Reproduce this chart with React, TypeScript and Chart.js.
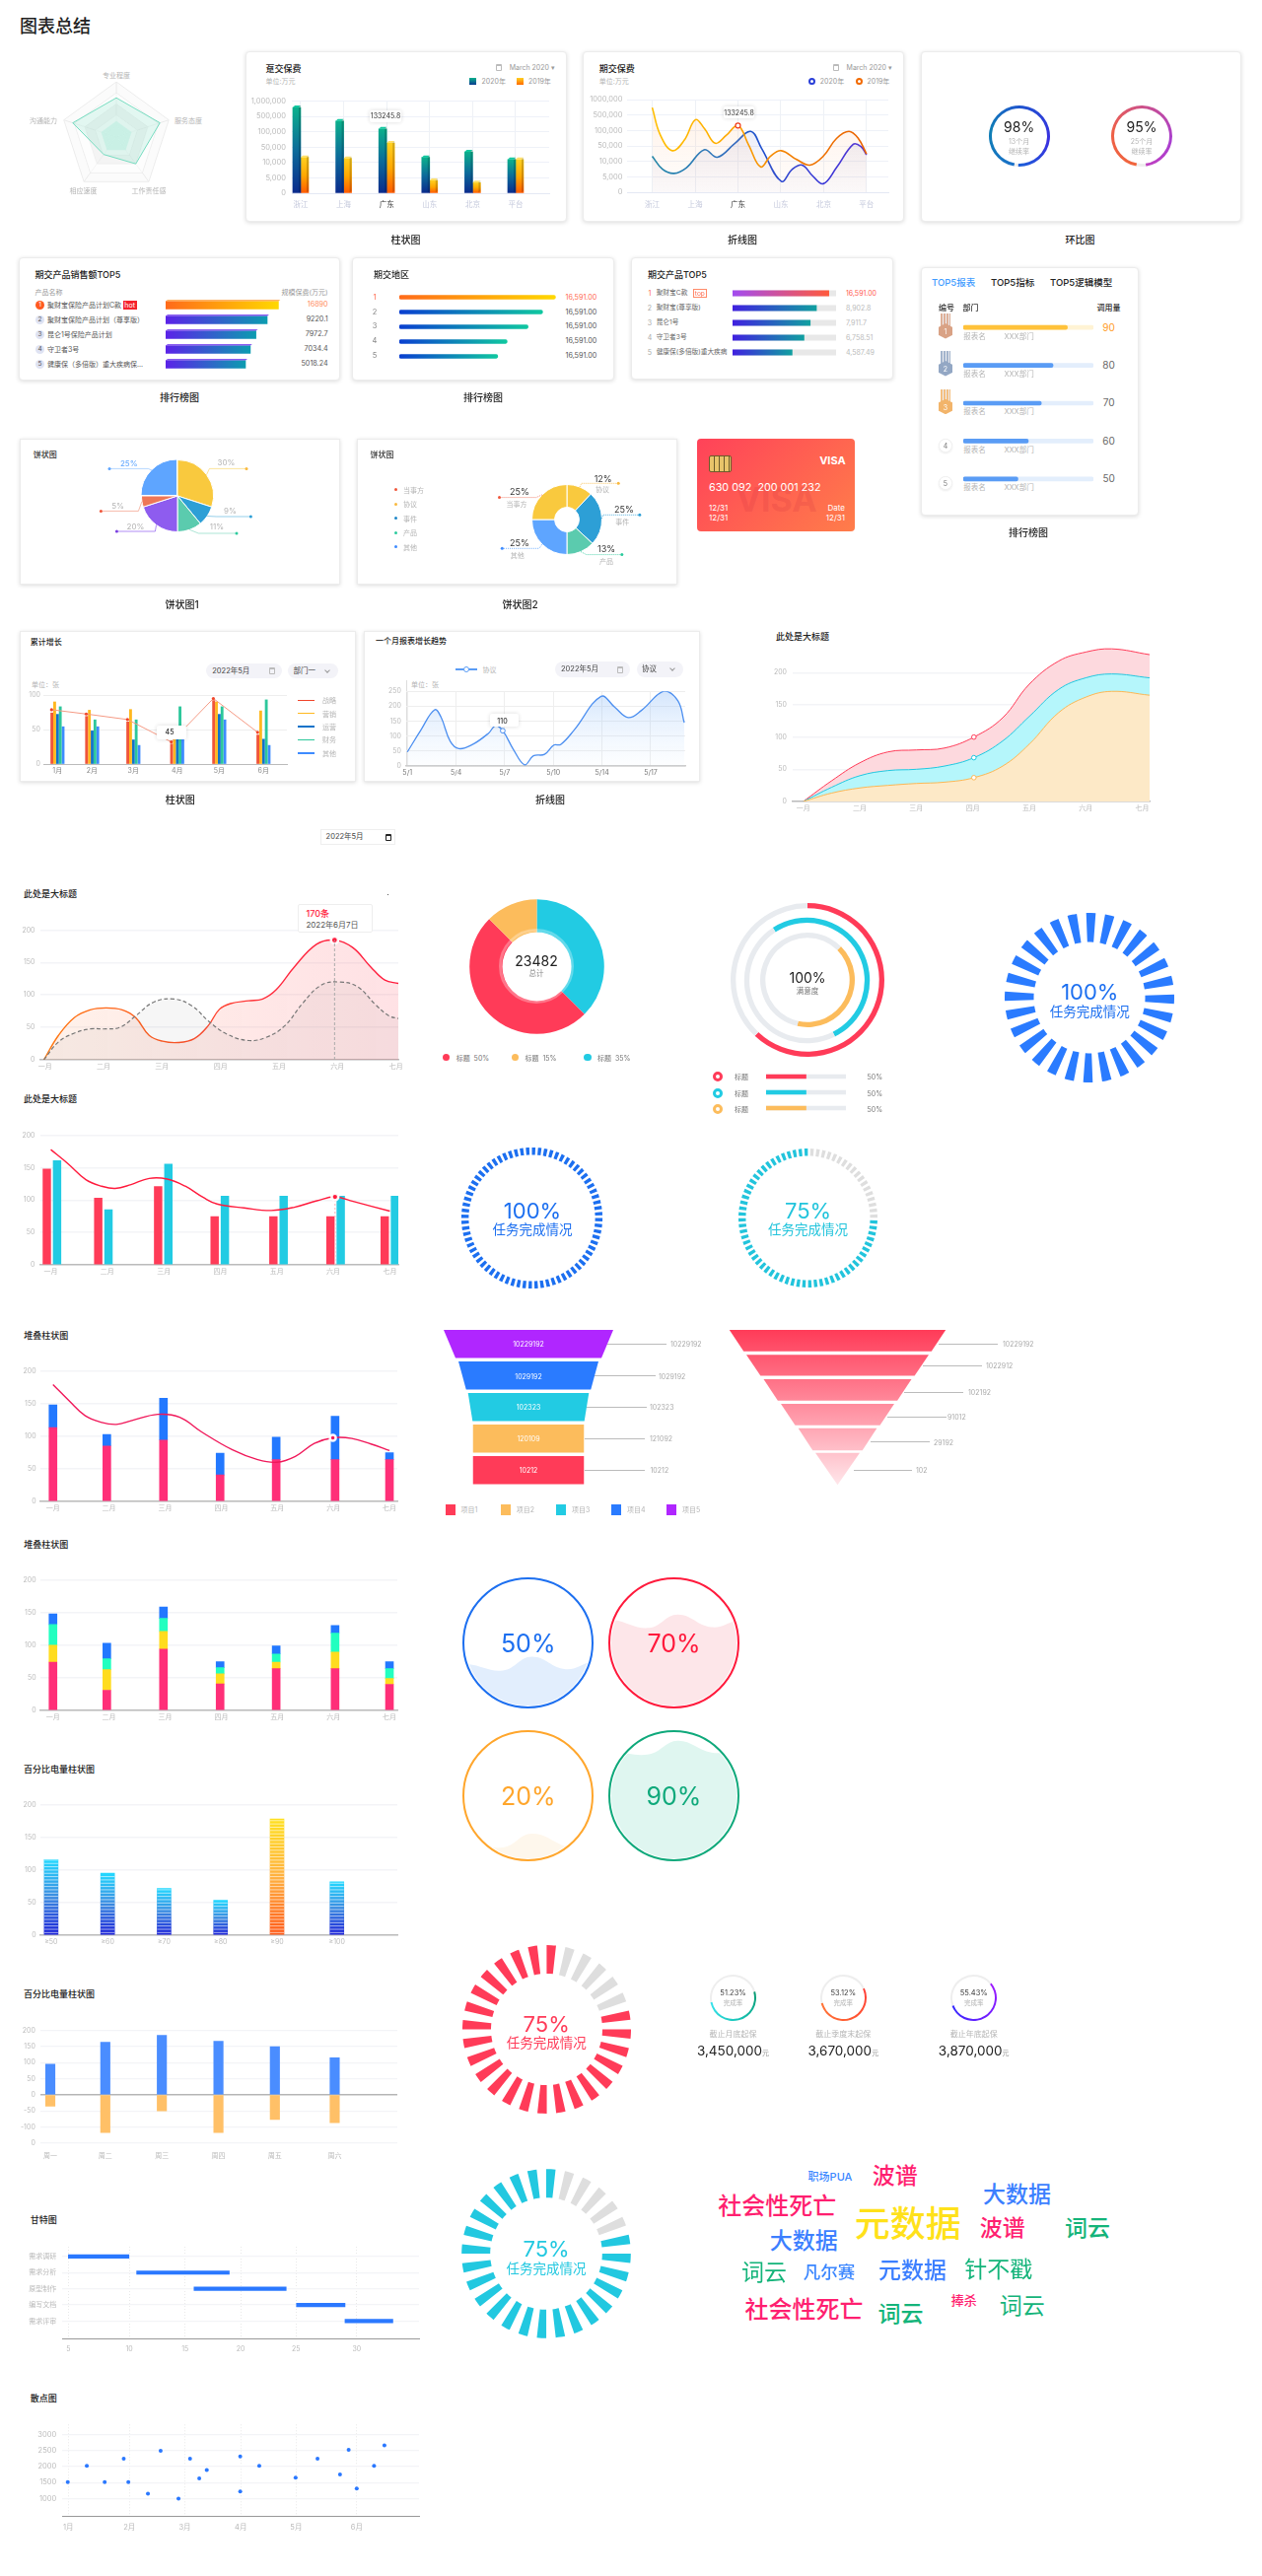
import React, { useEffect, useRef } from 'react';
import { Chart, registerables } from 'chart.js';
Chart.register(...registerables);

// ---------- DATA ----------
const radarLabels = ['专业程度', '服务态度', '工作责任感', '相应速度', '沟通能力'];
const radarSeries = [0.71, 0.83, 0.6, 0.39, 0.83];
const radarInner = [0.29, 0.29, 0.29, 0.29, 0.29];
const regions = ['浙江', '上海', '广东', '山东', '北京', '平台'];
const slotLabelsA = ['0', '5,000', '10,000', '50,000', '100,000', '500,000', '1,000,000'];
const slotLabelsB = ['0', '5,000', '10,000', '50,000', '100,000', '500,000', '1000,000'];
const bars2020 = [5.58, 4.7, 4.19, 2.33, 2.69, 2.2];
const bars2019 = [2.33, 2.27, 3.27, 0.83, 0.69, 2.19];
const lineOrangeX = [0, 0.19, 0.47, 0.75, 1.01, 1.22, 1.47, 1.73, 2.0, 2.25, 2.53, 2.76, 3.01, 3.37, 3.68, 3.99, 4.3, 4.59, 4.81, 5.0];
const lineOrangeY = [5.48, 3.69, 2.69, 3.38, 4.7, 4.11, 3.17, 3.69, 4.32, 3.06, 1.64, 2.33, 2.69, 2.12, 1.76, 2.33, 3.48, 3.94, 3.48, 2.48];
const lineBlueX = [0, 0.24, 0.51, 0.8, 1.21, 1.52, 1.93, 2.3, 2.55, 3.01, 3.27, 3.5, 3.74, 3.99, 4.3, 4.69, 4.87, 5.0];
const lineBlueY = [2.33, 1.49, 1.22, 1.59, 2.75, 2.27, 3.17, 3.94, 2.85, 0.71, 1.49, 1.76, 1.07, 0.55, 1.59, 3.1, 2.96, 2.43];

const rank1Names = ['聚财宝保险产品计划C款', '聚财宝保险产品计划（尊享版）', '昆仑1号保险产品计划', '守卫者3号', '健康保（多倍版）重大疾病保...'];
const rank1Len = [114.4, 103, 91.6, 85.9, 81];
const rank1Vals = ['16890', '9220.1', '7972.7', '7034.4', '5018.24'];
const rank2Len = [157.9, 144.9, 130.2, 109, 99.5];
const rank2Vals = ['16,591.00', '16,591.00', '16,591.00', '16,591.00', '16,591.00'];
const rank3Names = ['聚财宝C款', '聚财宝(尊享版)', '昆仑1号', '守卫者3号', '健康保(多倍版)重大疾病'];
const rank3Pct = [93, 81, 75, 69, 57.5];
const rank3Vals = ['16,591.00', '8,902.8', '7,911.7', '6,758.51', '4,587.49'];
const rank4Pct = [80, 69, 60, 50, 42];
const rank4Vals = ['90', '80', '70', '60', '50'];

const pie1Vals = [30, 9, 11, 20, 5, 25];
const pie2Vals = [12, 25, 13, 25, 25];
const pie2Names = ['当事方', '协议', '事件', '产品', '其他'];

const months = ['1月', '2月', '3月', '4月', '5月', '6月'];
const monthPos = [0, 0.8, 1.75, 2.76, 3.73, 4.75];
const growStrategy = [74, 69, 61, 29, 92, 42];
const growMarketing = [90, 78, 79, 38, 90, 77];
const growOps = [72, 48, 35, 38, 72, 36];
const growFinance = [83, 64, 64, 83, 83, 93];
const growOther = [54, 54, 27, 38, 64, 27];
const growLine = [78.7, 72.5, 64.5, 32, 95, 46];

const trendX = [0, 0.28, 0.56, 0.69, 0.88, 1.06, 1.34, 1.67, 1.81, 1.96, 2.18, 2.41, 2.59, 2.82, 3.01, 3.15, 3.43, 3.98, 4.26, 4.54, 4.81, 5.28, 5.56, 5.69];
const trendY = [47, 121, 188, 164, 83, 58, 72, 110, 135, 118, 55, 4, 34, 39, 70, 72, 121, 233, 197, 162, 186, 251, 218, 145];
const trendLabels = ['5/1', '5/4', '5/7', '5/10', '5/14', '5/17'];

const cnMonths = ['一月', '二月', '三月', '四月', '五月', '六月', '七月'];
const areaX = [0, 0.5, 1, 1.5, 2, 2.5, 3.02, 3.53, 4, 4.52, 5, 5.46, 6.13];
const areaRed = [0, 32, 60, 77, 80, 83, 100, 130, 182, 218, 232, 237, 228];
const areaTeal = [0, 22, 40, 48, 50, 55, 68, 94, 132, 174, 192, 198, 192];
const areaOrange = [0, 13, 21, 25, 28, 30, 37, 55, 89, 138, 162, 171, 165];

const waveSolidX = [-0.02, 0.23, 0.5, 0.77, 1.04, 1.32, 1.55, 1.78, 2.01, 2.28, 2.55, 2.79, 2.98, 3.17, 3.48, 3.72, 3.95, 4.26, 4.64, 4.95, 5.26, 5.57, 5.81, 6.04];
const waveSolidY = [0, 37.6, 65, 77, 80, 77, 65, 37.6, 28.6, 26.6, 32.6, 52.6, 77.7, 86.7, 91, 93.7, 107.8, 142.9, 178, 184.5, 173, 143, 122.8, 117.8];
const waveDashX = [-0.02, 0.23, 0.5, 0.77, 1.04, 1.28, 1.55, 1.86, 2.21, 2.52, 2.79, 3.1, 3.48, 3.79, 4.1, 4.41, 4.72, 5.03, 5.34, 5.65, 5.88, 6.04];
const waveDashY = [0, 27.6, 41, 47.6, 47.6, 50, 67.7, 89, 93.7, 82.7, 60, 40, 29.6, 35, 52.6, 87.7, 115, 120, 112.8, 85, 67.7, 63.7];

const donutVals = [37.5, 50, 12.5];
const legendDonut = ['标题  50%', '标题  15%', '标题  35%'];

const mixGroupX = [0.02, 0.93, 1.99, 2.99, 4.03, 5.04, 6.0];
const mixRed = [148, 103, 121, 74.5, 74.5, 74.5, 74.5];
const mixTeal = [161, 85, 155.5, 106, 106, 106, 106];
const mixLineX = [0, 0.3, 0.62, 0.9, 1.14, 1.42, 1.74, 2.06, 2.38, 2.7, 2.94, 3.42, 3.9, 4.31, 4.71, 5.03, 5.35, 6.0];
const mixLineY = [178, 156.5, 131.5, 121.5, 118, 124, 133.5, 132.5, 121.5, 104, 94, 88, 84, 89, 99, 105, 98, 83];

const stackGroupX = [0, 0.96, 1.97, 2.98, 3.98, 5.03, 6.0];
const stackPink = [113, 85, 94, 40.5, 64, 64, 64];
const stackBlue = [35, 17.5, 64, 33.5, 34.5, 66.5, 10.5];
const stackLineX = [0, 0.29, 0.57, 0.85, 1.13, 1.41, 1.87, 2.26, 2.65, 3.2, 3.65, 3.99, 4.32, 4.66, 4.99, 5.33, 5.67, 6.0];
const stackLineY = [179, 154, 131.5, 121.5, 118, 124, 133.5, 129, 106.5, 79, 64, 60, 69, 89, 97.5, 96.5, 88, 78];
const stack4Pink = [74, 31, 94, 40.5, 64, 64, 40];
const stack4Yellow = [26, 31.5, 27, 15.5, 10, 25.5, 9];
const stack4Mint = [31.5, 16.5, 20, 9.5, 12.5, 29, 15];
const stack4Blue = [16.5, 24, 17.5, 9, 12.5, 11.5, 10.5];

const powerLabels = ['≥50', '≥60', '≥70', '≥80', '≥90', '≥100'];
const powerX = [0, 1, 2, 3, 4, 5.06];
const powerVals = [116, 95, 71.5, 53.5, 178, 82];

const weekLabels = ['周一', '周二', '周三', '周四', '周五', '周六'];
const weekX = [0, 0.975, 1.977, 2.98, 3.98, 5.04];
const weekPos = [94.5, 163, 184, 166, 149, 114.6];
const weekNeg = [-35, -116.6, -50, -116.6, -76.4, -86.4];
const weekTicks = [200, 150, 100, 50, 0, -50, -100, -150];
const weekTickLabels = ['200', '150', '100', '50', '0', '-50', '-100', '0'];

const ganttTasks = ['需求调研', '需求分析', '原型制作', '编写文档', '需求评审'];
const ganttStart = [5, 11, 16.04, 25.04, 29.3];
const ganttEnd = [10.32, 19.13, 24.13, 29.3, 33.5];
const ganttTicks = [5, 10.35, 15.25, 20.13, 25, 30.33];
const ganttTickLabels = ['5', '10', '15', '20', '25', '30'];

const scatterX = [0.99, 1.32, 1.63, 1.96, 2.04, 2.38, 2.6, 2.91, 3.11, 3.27, 3.4, 3.98, 3.98, 4.31, 4.94, 5.32, 5.71, 5.86, 6.0, 6.3, 6.48];
const scatterY = [1510, 2020, 1510, 2240, 1510, 1150, 2490, 1000, 2240, 1630, 1890, 2310, 1220, 2020, 1650, 2240, 1750, 2520, 1310, 2020, 2660];
const scatterTicks = [1, 2.06, 3.02, 3.99, 4.95, 6];

const funnel1Top = [172, 142, 122.6, 112.5, 112.5];
const funnel1Bottom = [148, 126.5, 113.4, 112.5, 112.5];
const funnel1Inner = ['10229192', '1029192', '102323', '120109', '10212'];
const funnel1Outer = ['10229192', '1029192', '102323', '121092', '10212'];
const funnel2Top = [219.4, 185, 150, 115, 79.7, 45];
const funnel2Bottom = [190.5, 156.3, 121.2, 86, 50.4, 0];
const funnel2Outer = ['10229192', '1022912', '102192', '91012', '29192', '102'];

const waveXs = [0, 2, 30, 53, 80, 100];
const wave50 = [31, 33, 28, 39, 29, 35];
const wave70 = [66, 68.4, 62, 72.7, 62.6, 68];
const wave20 = [12, 13.3, 8.6, 19.6, 9.4, 3];
const wave90 = [85, 85.4, 83, 93.8, 84.4, 86];

const kpiPct = [51.23, 53.12, 55.43];
const kpiNames = ['截止月底起保', '截止季度末起保', '截止年底起保'];
const kpiAmount = ['3,450,000', '3,670,000', '3,870,000'];

const cloudWords = ['职场PUA', '波谱', '社会性死亡', '大数据', '元数据', '波谱', '词云', '大数据', '词云', '凡尔赛', '元数据', '针不戳', '社会性死亡', '词云', '捧杀', '词云'];

// ---------- STYLE / HELPERS ----------
const FONT = 'Inter, "Noto Sans CJK SC", sans-serif';
Chart.defaults.font.family = FONT;
const noPlug = { legend: { display: false }, tooltip: { enabled: false } };
const zip = (xs: number[], ys: number[]) => xs.map((x, i) => ({ x, y: ys[i] }));
const lin = (ctx: any, x0: number, y0: number, x1: number, y1: number, stops: string[]) => {
  const g = ctx.createLinearGradient(x0, y0, x1, y1);
  stops.forEach((s, i) => g.addColorStop(i / (stops.length - 1), s));
  return g;
};
const vBar = (stops: any) => (c: any) => {
  const ch = c.chart;
  if (!ch.chartArea || c.dataIndex == null) return 'transparent';
  const s = ch.scales.y;
  const v = c.raw && c.raw.y != null ? c.raw.y : c.raw;
  const st = typeof stops === 'function' ? stops(c.dataIndex) : stops;
  return lin(ch.ctx, 0, s.getPixelForValue(0), 0, s.getPixelForValue(v), st);
};
const hBar = (stops: (i: number) => string[]) => (c: any) => {
  const ch = c.chart;
  if (!ch.chartArea || c.dataIndex == null) return 'transparent';
  const s = ch.scales.x;
  return lin(ch.ctx, s.getPixelForValue(0), 0, s.getPixelForValue(c.raw), 0, stops(c.dataIndex));
};
const vFill = (stops: string[]) => (c: any) => {
  const a = c.chart.chartArea;
  return a ? lin(c.chart.ctx, 0, a.top, 0, a.bottom, stops) : stops[0];
};
const hLine = (stops: string[]) => (c: any) => {
  const a = c.chart.chartArea;
  return a ? lin(c.chart.ctx, a.left, 0, a.right, 0, stops) : stops[0];
};
const conic = (deg: number, stops: [number, string][]) => (c: any) => {
  const ch = c.chart;
  const g = ch.ctx.createConicGradient(((deg - 90) * Math.PI) / 180, ch.width / 2, ch.height / 2);
  stops.forEach(([p, col]) => g.addColorStop(p, col));
  return g;
};

const bar3d = (caps: string[]) => ({
  id: 'bar3d',
  afterDatasetsDraw(ch: any) {
    const ctx = ch.ctx;
    caps.forEach((cap, di) => {
      ch.getDatasetMeta(di).data.forEach((el: any) => {
        const w = el.width, l = el.x - w / 2, r = el.x + w / 2, y = el.y, b = el.base;
        ctx.fillStyle = cap;
        ctx.beginPath();
        ctx.moveTo(l, y); ctx.lineTo(l + 2, y - 2); ctx.lineTo(r, y - 2); ctx.lineTo(r - 2, y); ctx.closePath(); ctx.fill();
        ctx.fillStyle = 'rgba(0,0,0,0.18)';
        ctx.beginPath();
        ctx.moveTo(r - 2, y); ctx.lineTo(r, y - 2); ctx.lineTo(r, b - 2); ctx.lineTo(r - 2, b); ctx.closePath(); ctx.fill();
      });
    });
  },
});
const hbar3d = (caps: (i: number) => string) => ({
  id: 'hbar3d',
  afterDatasetsDraw(ch: any) {
    const ctx = ch.ctx;
    ch.getDatasetMeta(0).data.forEach((el: any, i: number) => {
      const top = el.y - el.height / 2, x0 = el.base, x1 = el.x;
      ctx.fillStyle = caps(i);
      ctx.beginPath();
      ctx.moveTo(x0, top); ctx.lineTo(x0 + 2, top - 1.6); ctx.lineTo(x1 + 2, top - 1.6); ctx.lineTo(x1, top); ctx.closePath(); ctx.fill();
    });
  },
});
const stripes = {
  id: 'stripes',
  afterDatasetsDraw(ch: any) {
    const ctx = ch.ctx;
    ctx.fillStyle = 'rgba(255,255,255,0.6)';
    ch.getDatasetMeta(0).data.forEach((el: any) => {
      for (let yy = el.base - 2.4; yy > el.y; yy -= 3.34) ctx.fillRect(el.x - el.width / 2, yy, el.width, 1);
    });
  },
};
const leaders = (items: any[], dash: number[]) => ({
  id: 'leaders',
  afterDatasetsDraw(ch: any) {
    const ctx = ch.ctx;
    ch.getDatasetMeta(0).data.forEach((el: any, i: number) => {
      const it = items[i];
      const mid = (el.startAngle + el.endAngle) / 2;
      const sx = el.x + Math.cos(mid) * el.outerRadius, sy = el.y + Math.sin(mid) * el.outerRadius;
      const ex = el.x + it.ex, ey = el.y + it.ey, tx = el.x + it.tx;
      ctx.save();
      ctx.strokeStyle = it.line; ctx.lineWidth = 1; ctx.setLineDash(dash);
      ctx.beginPath(); ctx.moveTo(sx, sy); ctx.lineTo(ex, ey); ctx.lineTo(tx, ey); ctx.stroke();
      ctx.setLineDash([]);
      ctx.fillStyle = it.dot;
      ctx.beginPath(); ctx.arc(tx, ey, 1.5, 0, Math.PI * 2); ctx.fill();
      ctx.restore();
    });
  },
});
const funnel = (tops: number[], bottoms: number[], rows: number[], heights: number[], paint: any) => ({
  id: 'funnel',
  afterDatasetsDraw(ch: any) {
    const { x, y } = ch.scales;
    const ctx = ch.ctx;
    const c = x.getPixelForValue(0);
    tops.forEach((w, i) => {
      const m = y.getPixelForValue(rows[i]);
      const y0 = m - heights[i] / 2, y1 = m + heights[i] / 2;
      const ht = x.getPixelForValue(w / 2) - c, hb = x.getPixelForValue(bottoms[i] / 2) - c;
      ctx.beginPath();
      ctx.moveTo(c - ht, y0); ctx.lineTo(c + ht, y0); ctx.lineTo(c + hb, y1); ctx.lineTo(c - hb, y1); ctx.closePath();
      ctx.fillStyle = paint(ctx, i, ch);
      ctx.fill();
    });
  },
});

// ---------- PRIMITIVES ----------
function C({ x, y, w, h, cfg, style }: any) {
  const ref = useRef<HTMLCanvasElement | null>(null);
  useEffect(() => {
    const chart = new Chart(ref.current as any, {
      ...cfg,
      options: { responsive: false, maintainAspectRatio: false, animation: false, ...cfg.options },
    });
    return () => chart.destroy();
  }, []);
  const W = Math.round(w), H = Math.round(h);
  return <canvas ref={ref} width={W} height={H} style={{ position: 'absolute', left: Math.round(x), top: Math.round(y), width: W, height: H, ...style }} />;
}
const T = ({ x, y, s, z = 7, c = '#b5b5b5', b = 400, a = 'l', style }: any) => (
  <div style={{ position: 'absolute', left: x, top: y, transform: `translate(${a === 'c' ? '-50%' : a === 'r' ? '-100%' : '0'},-50%)`, fontSize: z, color: c, fontWeight: b, whiteSpace: 'pre', lineHeight: 1, ...style }}>{s}</div>
);
const Box = ({ x0, y0, x1, y1, style }: any) => (
  <div style={{ position: 'absolute', left: x0, top: y0, width: x1 - x0, height: y1 - y0, boxSizing: 'border-box', ...style }} />
);
const Card = ({ x0, y0, x1, y1, r = 4 }: any) => (
  <Box x0={x0} y0={y0} x1={x1} y1={y1} style={{ background: '#fff', borderRadius: r, border: '1px solid #ececec', boxShadow: '0 1px 4px rgba(0,0,0,0.14)' }} />
);
const Cap = ({ x, y, s }: any) => <T x={x} y={y} s={s} z={10} c="#222" b={500} a="c" />;
const Head = ({ x, y, s, z = 9 }: any) => <T x={x} y={y} s={s} z={z} c="#222" b={500} />;
const Tip = ({ x0, y0, x1, y1 }: any) => (
  <Box x0={x0} y0={y0} x1={x1} y1={y1} style={{ background: '#fff', borderRadius: 2, boxShadow: '0 0 4px rgba(0,0,0,0.14)' }} />
);
const Cal = ({ x, y, c = '#bbb' }: any) => (
  <Box x0={x - 3} y0={y - 3.5} x1={x + 3} y1={y + 3.5} style={{ border: `1px solid ${c}`, borderTopWidth: 2, borderRadius: 1 }} />
);
const Pill = ({ x0, x1, y0, y1, s, cal, tx }: any) => (
  <>
    <Box x0={x0} y0={y0} x1={x1} y1={y1} style={{ background: '#f3f3f8', borderRadius: 8 }} />
    <T x={tx} y={(y0 + y1) / 2} s={s} z={7.5} c="#444" />
    {cal ? <Cal x={x1 - 10} y={(y0 + y1) / 2} /> : <Box x0={x1 - 13} y0={(y0 + y1) / 2 - 3} x1={x1 - 9} y1={(y0 + y1) / 2 + 1} style={{ borderRight: '1px solid #999', borderBottom: '1px solid #999', transform: 'rotate(45deg)' }} />}
  </>
);

function Plot({ l, t, r, b, ds, xr, yr, xt, xl, yt, yl, plugins = [], indexAxis = 'x', vg = false, vgC = '#eef1f6', vgDash, axis = true, xPad = 3, yPad = 5, z = 7, stacked = false, gridC = '#f3f4f7', gridW = 1.5, axisC = '#bbb', axisW = 1.5, tc = '#bbb', yRev = false }: any) {
  const gL = 48, gB = 20, pT = 8, pR = 16;
  const cfg = {
    type: 'bar',
    data: { datasets: ds },
    plugins,
    options: {
      indexAxis,
      layout: { padding: { top: pT, right: pR } },
      plugins: noPlug,
      scales: {
        x: {
          type: 'linear', offset: false, stacked, min: xr[0], max: xr[1],
          afterBuildTicks: (s: any) => { s.ticks = xt.map((v: number) => ({ value: v })); },
          afterFit: (s: any) => { s.height = gB; },
          border: { display: axis, color: axisC, width: axisW, dash: vgDash },
          grid: { offset: false, display: vg, color: vgC, drawTicks: false, lineWidth: 1 },
          ticks: { autoSkip: false, maxRotation: 0, minRotation: 0, padding: xPad, color: tc, font: { size: z }, callback: (_: any, i: number) => xl[i] },
        },
        y: {
          type: 'linear', offset: false, stacked, reverse: yRev, min: yr[0], max: yr[1],
          afterBuildTicks: (s: any) => { s.ticks = yt.map((v: number) => ({ value: v })); },
          afterFit: (s: any) => { s.width = gL; },
          border: { display: false },
          grid: { offset: false, color: gridC, lineWidth: gridW, drawTicks: false },
          ticks: { autoSkip: false, padding: yPad, color: '#bbb', font: { size: z }, callback: (_: any, i: number) => yl[i] },
        },
      },
    },
  };
  return <C x={l - gL} y={t - pT} w={r - l + gL + pR} h={b - t + pT + gB} cfg={cfg} />;
}

function Ring({ cx, cy, r, w, data, colors, rot = 0, plugins = [] }: any) {
  const cfg = {
    type: 'doughnut',
    data: { datasets: [{ data, backgroundColor: colors, borderWidth: 0 }] },
    plugins,
    options: { radius: r, cutout: `${((r - w) / r) * 100}%`, rotation: rot, plugins: noPlug },
  };
  return <C x={cx - r - 2} y={cy - r - 2} w={2 * r + 4} h={2 * r + 4} cfg={cfg} />;
}

// A segmented gauge: n lit-or-unlit segments with equal blank slots between them.
function Gauge({ cx, cy, r, w, n, off = 0, on, offC = '#dedede', rot = 0, ratio = 1 }: any) {
  const data: number[] = [];
  const colors: string[] = [];
  for (let i = 0; i < n; i++) {
    data.push(ratio, 1);
    colors.push(i < off ? offC : on, 'rgba(0,0,0,0)');
  }
  return <Ring cx={cx} cy={cy} r={r} w={w} data={data} colors={colors} rot={rot} />;
}

function HBars({ l, r, first, sp, vals, max, color, track, thick, radius = 0, plugins = [] }: any) {
  const n = vals.length;
  const ds: any[] = [{ data: vals, backgroundColor: color, barThickness: thick, borderRadius: radius, borderSkipped: false }];
  if (track) ds.push({ data: vals.map(() => max), backgroundColor: track, barThickness: thick, borderRadius: radius, borderSkipped: false });
  const cfg = {
    type: 'bar',
    data: { labels: vals.map((_: any, i: number) => String(i + 1)), datasets: ds },
    plugins,
    options: {
      indexAxis: 'y',
      layout: { padding: 0 },
      plugins: noPlug,
      datasets: { bar: { grouped: false } },
      scales: { x: { display: false, min: 0, max }, y: { display: false } },
    },
  };
  return <C x={l} y={first - sp / 2} w={r - l} h={sp * n} cfg={cfg} />;
}

function Liquid({ cx, cy, color, fill, ys, label, ty }: any) {
  const R = 66.7, ri = 63.7;
  const cfg = {
    type: 'line',
    data: { datasets: [{ data: zip(waveXs, ys), borderWidth: 0, pointRadius: 0, fill: 'start', tension: 0.42, backgroundColor: fill }] },
    options: {
      layout: { padding: 0 },
      plugins: noPlug,
      scales: { x: { type: 'linear', display: false, min: 0, max: 100 }, y: { display: false, min: 0, max: 100 } },
    },
  };
  return (
    <>
      <C x={cx - ri} y={cy - ri} w={2 * ri} h={2 * ri} cfg={cfg} style={{ borderRadius: '50%' }} />
      <Box x0={cx - R} y0={cy - R} x1={cx + R} y1={cy + R} style={{ borderRadius: '50%', border: `2px solid ${color}` }} />
      <T x={cx} y={ty} s={label} z={25} c={color} a="c" />
    </>
  );
}

const Medal = ({ x, y, n, c }: any) => (
  <>
    <Box x0={x - 5} y0={y - 17.5} x1={x + 5} y1={y - 4} style={{ background: `repeating-linear-gradient(90deg,${c} 0 2px,#e9e9ee 2px 3px)`, opacity: 0.85 }} />
    <Box x0={x - 7.3} y0={y - 7.8} x1={x + 7.3} y1={y + 7.8} style={{ background: c, clipPath: 'polygon(50% 0,100% 25%,100% 75%,50% 100%,0 75%,0 25%)' }} />
    <T x={x} y={y} s={n} z={7} c="#fff" a="c" />
  </>
);
const SectionGauge = ({ cx, cy, color, pct, y1, y2, z = 22 }: any) => (
  <>
    <T x={cx} y={y1} s={pct} z={z} c={color} a="c" />
    <T x={cx} y={y2} s="任务完成情况" z={13.5} c={color} a="c" />
  </>
);
const Lead = ({ x0, x1, y, s, tx }: any) => (
  <>
    <Box x0={x0} y0={y - 0.5} x1={x1} y1={y + 0.5} style={{ background: '#bbb' }} />
    <T x={tx} y={y} s={s} z={7} c="#aaa" />
  </>
);
const cats = cnMonths;
const midTicks = [0, 1, 2, 3, 4, 5, 6];

export default function App() {
  const ft = [0, 1, 2, 3, 4, 5];
  const rk1Y = [309.3, 324.3, 339, 354, 369];
  const rk2Y = [301.7, 316.7, 331, 346.3, 361.3];
  const rk3Y = [297.3, 312.3, 327, 342, 357];
  const rk4Y = [331.7, 370, 408.3, 446.7, 485];
  const fn1C = ['#b026ff', '#2a7bff', '#22cbe3', '#fcbc5c', '#ff3b58'];
  const legC = ['#ff3b58', '#fcbc5c', '#22cbe3', '#2a7bff', '#b026ff'];
  const wordLayout: any[] = [
    [842, 2208.3, 11, '#3c87ff'], [907.7, 2207.3, 23, '#ff1f70'], [788.3, 2237.7, 24, '#ff1f70'], [1031.5, 2225.7, 23, '#3c7fff'],
    [920.7, 2255.7, 36, '#ffe11a'], [1016.7, 2260, 23, '#ff1f70'], [1103, 2260, 23, '#14b47a'], [815.3, 2273.3, 23, '#3c7fff'],
    [775, 2305, 23, '#14b47a'], [841, 2305, 17.5, '#3c87ff'], [925.5, 2302.7, 23, '#3c7fff'], [1012.8, 2302.3, 23, '#14b47a'],
    [815.4, 2343.3, 24, '#ff1f70'], [913.4, 2346.7, 23, '#14b47a'], [977.7, 2333.3, 13, '#ff1f70'], [1036.8, 2339, 23, '#14b47a'],
  ];
  return (
    <div style={{ position: 'absolute', left: 0, top: 0, width: 1280, height: 2613, overflow: 'hidden', background: '#fff', fontFamily: FONT }}>
      <T x={20} y={26.7} s="图表总结" z={18} c="#222" b={500} />

      {/* radar */}
      <C x={62} y={83} w={112} h={112} cfg={{
        type: 'radar',
        data: {
          labels: radarLabels,
          datasets: [
            { data: radarSeries, borderColor: '#76dcc0', borderWidth: 1, backgroundColor: 'rgba(100,215,185,0.18)', fill: true, pointRadius: 0 },
            { data: radarInner, borderWidth: 0, backgroundColor: 'rgba(150,240,215,0.25)', fill: true, pointRadius: 0 },
            { data: radarLabels.map(() => 0.4), borderWidth: 0, backgroundColor: 'rgba(255,255,255,0.5)', fill: true, pointRadius: 0 },
            { data: radarLabels.map(() => 0.6), borderWidth: 0, backgroundColor: 'rgba(0,0,0,0.035)', fill: true, pointRadius: 0 },
            { data: radarLabels.map(() => 0.8), borderWidth: 0, backgroundColor: 'rgba(255,255,255,0.5)', fill: true, pointRadius: 0 },
            { data: radarLabels.map(() => 1), borderWidth: 0, backgroundColor: 'rgba(0,0,0,0.015)', fill: true, pointRadius: 0 },
          ],
        },
        options: { layout: { padding: 0 }, plugins: noPlug, scales: { r: { min: 0, max: 1, ticks: { display: false, stepSize: 0.2 }, pointLabels: { display: false }, grid: { color: '#eeeeee' }, angleLines: { color: '#eeeeee' } } } },
      }} />
      <T x={118} y={76} s={radarLabels[0]} a="c" />
      <T x={191} y={122} s={radarLabels[1]} a="c" />
      <T x={151} y={193} s={radarLabels[2]} a="c" />
      <T x={84.5} y={193} s={radarLabels[3]} a="c" />
      <T x={44} y={122} s={radarLabels[4]} a="c" />

      {/* card 1: 3D bars */}
      <Card x0={249.4} y0={51.7} x1={574.7} y1={225.3} />
      <Head x={269.4} y={69.3} s="趸交保费" />
      <T x={269.4} y={82} s="单位:万元" />
      <Cal x={506} y={68.5} />
      <T x={516.7} y={68.3} s="March 2020 ▾" c="#999" />
      <Box x0={475.5} y0={78.5} x1={482.5} y1={85.5} style={{ background: 'linear-gradient(#0bb08c,#0a3a90)' }} />
      <T x={488.6} y={82} s="2020年" c="#999" />
      <Box x0={523.5} y0={78.5} x1={530.5} y1={85.5} style={{ background: 'linear-gradient(#ffd020,#ff6a00)' }} />
      <T x={536} y={82} s="2019年" c="#999" />
      <Plot l={296} t={100} r={557} b={196} xr={[-0.206, 5.78]} yr={[0, 6]} xt={ft} xl={regions} yt={[0, 1, 2, 3, 4, 5, 6]} yl={slotLabelsA}
        vg gridC="#eef1f8" gridW={1} axisC="#e4e8f4" axisW={1} yPad={6} xPad={7.5} z={7.5}
        tc={(c: any) => (c.index === 2 ? '#333' : '#c5c9dc')}
        plugins={[bar3d(['#12c8a0', '#ffe068'])]}
        ds={[
          { data: zip(ft, bars2020), barThickness: 8, backgroundColor: vBar(['#0a2a8c', '#0c6b9a', '#0bb08c']) },
          { data: zip(ft, bars2019), barThickness: 8, backgroundColor: vBar(['#ff5a00', '#ffa800', '#ffd020']) },
        ]} />
      <Tip x0={375} y0={112} x1={407} y1={124} />
      <T x={391} y={117} s="133245.8" c="#333" a="c" />
      <Cap x={411.4} y={243} s="柱状图" />

      {/* card 2: wavy lines */}
      <Card x0={591} y0={51.7} x1={917} y1={225.3} />
      <Head x={607.7} y={69.3} s="期交保费" />
      <T x={607.7} y={82} s="单位:万元" />
      <Cal x={848} y={68.5} />
      <T x={858.6} y={68.3} s="March 2020 ▾" c="#999" />
      <Box x0={819.8} y0={78.5} x1={826.8} y1={85.5} style={{ borderRadius: '50%', border: '2px solid #2a3fd8' }} />
      <T x={831.8} y={82} s="2020年" c="#999" />
      <Box x0={868} y0={78.5} x1={875} y1={85.5} style={{ borderRadius: '50%', border: '2px solid #f26a00' }} />
      <T x={879.5} y={82} s="2019年" c="#999" />
      <Plot l={635.8} t={100} r={900.5} b={195.3} xr={[-0.588, 5.51]} yr={[0, 6]} xt={ft} xl={regions} yt={[0, 1, 2, 3, 4, 5, 6]} yl={slotLabelsB}
        vg gridC="#eef1f8" gridW={1} axisC="#e4e8f4" axisW={1} yPad={4.5} xPad={8} z={7.5}
        tc={(c: any) => (c.index === 2 ? '#333' : '#c5c9dc')}
        ds={[
          { type: 'line', data: zip(lineOrangeX, lineOrangeY), tension: 0.4, borderWidth: 1.6, borderColor: hLine(['#ffc400', '#ffb000', '#f07800', '#e85a00']), fill: true, backgroundColor: vFill(['rgba(255,170,110,0.18)', 'rgba(255,190,150,0.03)']),
            pointRadius: (c: any) => (c.dataIndex === 8 ? 2.5 : 0), pointBackgroundColor: '#fff', pointBorderColor: '#f03a1a', pointBorderWidth: 1.2 },
          { type: 'line', data: zip(lineBlueX, lineBlueY), tension: 0.4, borderWidth: 1.6, borderColor: hLine(['#0e8aa0', '#1a6fc0', '#2535d8', '#4a20e0']), fill: true, backgroundColor: vFill(['rgba(60,110,220,0.16)', 'rgba(150,120,170,0.03)']), pointRadius: 0 },
        ]} />
      <Tip x0={734} y0={108} x1={765} y1={120} />
      <T x={749.5} y={114} s="133245.8" c="#333" a="c" />
      <Cap x={753} y={243} s="折线图" />

      {/* card 3: ratio rings */}
      <Card x0={934} y0={51.7} x1={1258.6} y1={225.3} />
      <Ring cx={1033.6} cy={138.3} r={31} w={3} data={[98, 2]} rot={190}
        colors={(c: any) => (c.dataIndex === 0 ? conic(190, [[0, '#1a70c8'], [0.25, '#0f7fb5'], [0.5, '#2050d0'], [0.75, '#3a30e0'], [0.98, '#1a60d8'], [1, '#1a60d8']])(c) : '#eeeeee')} />
      <T x={1033.6} y={129.3} s="98%" z={14} c="#222" a="c" />
      <T x={1033.6} y={143} s="13个月" a="c" />
      <T x={1033.6} y={153} s="继续率" a="c" />
      <Ring cx={1158} cy={138.3} r={31} w={3} data={[95, 5]} rot={190}
        colors={(c: any) => (c.dataIndex === 0 ? conic(190, [[0, '#f0653c'], [0.25, '#ee6048'], [0.5, '#c94f8f'], [0.75, '#a93fd0'], [0.95, '#c040c0'], [1, '#c040c0']])(c) : '#eeeeee')} />
      <T x={1158} y={129.3} s="95%" z={14} c="#222" a="c" />
      <T x={1158} y={143} s="25个月" a="c" />
      <T x={1158} y={153} s="继续率" a="c" />
      <Cap x={1095.6} y={243} s="环比图" />

      {/* ranking 1 */}
      <Card x0={19} y0={261} x1={345} y1={385.7} />
      <Head x={35.5} y={278.3} s="期交产品销售额TOP5" />
      <T x={35.5} y={295.7} s="产品名称" c="#999" />
      <T x={332.6} y={295.7} s="规模保费(万元)" c="#999" a="r" />
      {rk1Y.map((y, i) => (
        <React.Fragment key={i}>
          <Box x0={36} y0={y - 4.5} x1={45} y1={y + 4.5} style={{ borderRadius: '50%', background: i === 0 ? '#ff5a1f' : '#dfe3f3' }} />
          <T x={40.5} y={y} s={String(i + 1)} z={6.5} c={i === 0 ? '#fff' : '#555'} a="c" />
          <T x={48} y={y} s={rank1Names[i]} z={7} c="#555" />
          <T x={332.6} y={y} s={rank1Vals[i]} z={7.2} c={i === 0 ? '#ff8b5c' : '#555'} a="r" />
        </React.Fragment>
      ))}
      <Box x0={124.5} y0={305} x1={139} y1={314} style={{ background: '#f5222d' }} />
      <T x={131.7} y={309.3} s="hot" z={7} c="#fff" a="c" />
      <HBars l={168} r={296} first={rk1Y[0]} sp={14.95} vals={rank1Len} max={128} thick={8}
        color={hBar((i) => (i === 0 ? ['#ff6a1a', '#ffd800'] : ['#5b22e8', '#0c9cb0']))}
        plugins={[hbar3d((i) => (i === 0 ? '#ffb060' : '#8a5cf0'))]} />
      <Cap x={182} y={403} s="排行榜图" />

      {/* ranking 2 */}
      <Card x0={357} y0={261} x1={623} y1={385.7} />
      <Head x={379} y={278.3} s="期交地区" />
      {rk2Y.map((y, i) => (
        <React.Fragment key={i}>
          <T x={380} y={y} s={String(i + 1)} z={7.5} c={i === 0 ? '#ff6a50' : '#888'} a="c" />
          <T x={573.5} y={y} s={rank2Vals[i]} z={7.2} c={i === 0 ? '#ff6a50' : '#555'} />
        </React.Fragment>
      ))}
      <HBars l={404.5} r={565} first={rk2Y[0]} sp={14.95} vals={rank2Len} max={160.5} thick={3.6} radius={2}
        color={hBar((i) => (i === 0 ? ['#ff6a1a', '#ffd800'] : ['#0a3fd0', '#10c8a0']))} />
      <Cap x={490} y={403} s="排行榜图" />

      {/* ranking 3 */}
      <Card x0={640} y0={261} x1={906} y1={385.3} />
      <Head x={657} y={278.3} s="期交产品TOP5" />
      {rk3Y.map((y, i) => (
        <React.Fragment key={i}>
          <T x={659} y={y - 0.5} s={String(i + 1)} z={7} c={i === 0 ? '#ff6a50' : '#aaa'} a="c" />
          <T x={665.7} y={y} s={rank3Names[i]} z={6.7} c="#666" />
          <T x={858} y={y} s={rank3Vals[i]} z={7} c={i === 0 ? '#ff5a50' : '#bbb'} />
        </React.Fragment>
      ))}
      <Box x0={703} y0={293} x1={716.6} y1={302} style={{ border: '1px solid #ff8b6a' }} />
      <T x={709.8} y={297.5} s="top" z={6.5} c="#ff6a50" a="c" />
      <HBars l={743.4} r={848.8} first={rk3Y[0]} sp={14.95} vals={rank3Pct} max={100} thick={5.4} track="#e8e8e8"
        color={hBar((i) => (i === 0 ? ['#a24cf0', '#ff5a3c'] : ['#4020e0', '#10a0a0']))} />

      {/* TOP5 card */}
      <Card x0={934} y0={270.7} x1={1154.5} y1={523.3} />
      <T x={945} y={287.3} s="TOP5报表" z={9.5} c="#3f9cff" b={500} />
      <T x={1005} y={287.3} s="TOP5指标" z={9.5} c="#222" b={500} />
      <T x={1065} y={287.3} s="TOP5逻辑模型" z={9.5} c="#222" b={500} />
      <T x={952} y={312} s="编号" z={8} c="#333" b={500} />
      <T x={976.4} y={312} s="部门" z={8} c="#333" b={500} />
      <T x={1112.6} y={312} s="调用量" z={8} c="#333" b={500} />
      {rk4Y.map((y, i) => (
        <React.Fragment key={i}>
          <T x={1124.6} y={y} s={rank4Vals[i]} z={10} c={i === 0 ? '#ff9a1a' : '#666'} a="c" />
          <T x={977.3} y={y + 10} s="报表名" z={7.5} />
          <T x={1018.4} y={y + 10} s="XXX部门" z={7.5} />
        </React.Fragment>
      ))}
      <HBars l={977} r={1109} first={rk4Y[0]} sp={38.33} vals={rank4Pct} max={100} thick={4} radius={2}
        track={(c: any) => (c.dataIndex === 0 ? '#fff3d4' : '#e3eefc')}
        color={(c: any) => (c.dataIndex === 0 ? '#ffc23a' : '#5a9cf5')} />
      <Medal x={959} y={335.8} n="1" c="#d9a285" />
      <Medal x={959} y={373.8} n="2" c="#93a7c4" />
      <Medal x={959} y={412.5} n="3" c="#f2b46a" />
      {[452, 490].map((y, i) => (
        <React.Fragment key={i}>
          <Box x0={952.4} y0={y - 6.6} x1={965.6} y1={y + 6.6} style={{ borderRadius: '50%', border: '1px solid #eee', boxShadow: '0 1px 2px rgba(0,0,0,0.08)' }} />
          <T x={959} y={y} s={String(i + 4)} z={7} c="#777" a="c" />
        </React.Fragment>
      ))}
      <Cap x={1043} y={540} s="排行榜图" />

      {/* pie 1 */}
      <Card x0={20} y0={444.7} x1={345} y1={593} r={0} />
      <T x={33.7} y={460.7} s="饼状图" z={8} c="#333" b={500} />
      <C x={179.6 - 85} y={503.3 - 50} w={170} h={100} cfg={{
        type: 'pie',
        data: { datasets: [{ data: pie1Vals, backgroundColor: ['#f9c93e', '#2d9fd6', '#5bcbae', '#8e5cef', '#ee7757', '#5ea5ff'], borderColor: '#fff', borderWidth: 1, offset: [0, 0, 0, 0, 0, 3] }] },
        plugins: [leaders([
          { ex: 32.4, ey: -27.6, tx: 70, line: 'rgba(249,201,62,.5)', dot: '#f9b93e' },
          { ex: 39.4, ey: 21, tx: 74.4, line: 'rgba(45,159,214,.5)', dot: '#2d9fd6' },
          { ex: 21.4, ey: 38, tx: 60, line: 'rgba(91,203,174,.5)', dot: '#2dcb9e' },
          { ex: -22.6, ey: 36, tx: -61.6, line: 'rgba(142,92,239,.7)', dot: '#7a3fe0' },
          { ex: -39.6, ey: 15.4, tx: -77.6, line: 'rgba(238,119,87,.5)', dot: '#f0553a' },
          { ex: -29.6, ey: -27.6, tx: -69, line: 'rgba(94,165,255,.45)', dot: '#5ea5ff' },
        ], [])],
        options: { radius: 36.5, layout: { padding: 0 }, plugins: noPlug },
      }} />
      <T x={130.8} y={470} s="25%" z={8} c="#5ea5ff" a="c" />
      <T x={229.5} y={469.3} s="30%" z={8} a="c" />
      <T x={233.4} y={518} s="9%" z={8} a="c" />
      <T x={220} y={534} s="11%" z={8} a="c" />
      <T x={137.5} y={534} s="20%" z={8} a="c" />
      <T x={119.5} y={513.3} s="5%" z={8} a="c" />
      <Cap x={184.6} y={613} s="饼状图1" />

      {/* pie 2 */}
      <Card x0={362} y0={444.7} x1={687.4} y1={593} r={0} />
      <T x={375.4} y={460.7} s="饼状图" z={8} c="#333" b={500} />
      {[496.7, 511.3, 525.7, 540.3, 554.7].map((y, i) => (
        <React.Fragment key={i}>
          <Box x0={400.3} y0={y - 1.5} x1={403.3} y1={y + 1.5} style={{ borderRadius: '50%', background: ['#f0553a', '#f9b93e', '#1f88c8', '#2dcb9e', '#3e8bff'][i] }} />
          <T x={409} y={y} s={pie2Names[i]} />
        </React.Fragment>
      ))}
      <C x={575.2 - 85} y={526.7 - 50} w={170} h={100} cfg={{
        type: 'doughnut',
        data: { datasets: [{ data: pie2Vals, backgroundColor: ['#f9c93e', '#2d9fd6', '#5bcbae', '#5ea5ff', '#f9c93e'], borderColor: '#fff', borderWidth: 1 }] },
        plugins: [leaders([
          { ex: 14.8, ey: -36.7, tx: 52.2, line: 'rgba(249,185,62,.8)', dot: '#f9b93e' },
          { ex: 36.5, ey: -4.7, tx: 73.8, line: 'rgba(45,159,214,.8)', dot: '#2d9fd6' },
          { ex: 19.8, ey: 35.6, tx: 55.8, line: 'rgba(45,203,158,.8)', dot: '#2dcb9e' },
          { ex: -28.2, ey: 29.3, tx: -65.7, line: 'rgba(94,165,255,.8)', dot: '#3e8bff' },
          { ex: -31.2, ey: -22.4, tx: -68.5, line: 'rgba(240,85,58,.7)', dot: '#f0553a' },
        ], [1, 1])],
        options: { radius: 35.5, cutout: '35%', layout: { padding: 0 }, plugins: noPlug },
      }} />
      <T x={611.7} y={485} s="12%" z={9} c="#333" a="c" />
      <T x={611} y={496} s={pie2Names[1]} a="c" />
      <T x={633} y={516.3} s="25%" z={9} c="#333" a="c" />
      <T x={631.3} y={529} s={pie2Names[2]} a="c" />
      <T x={615} y={556} s="13%" z={9} c="#333" a="c" />
      <T x={615} y={569} s={pie2Names[3]} a="c" />
      <T x={527} y={550} s="25%" z={9} c="#333" a="c" />
      <T x={524.7} y={562.7} s={pie2Names[4]} a="c" />
      <T x={527} y={497.7} s="25%" z={9} c="#333" a="c" />
      <T x={524} y={510.7} s={pie2Names[0]} a="c" />
      <Cap x={527.5} y={613} s="饼状图2" />

      {/* VISA card */}
      <Box x0={707} y0={445} x1={867} y1={539} style={{ borderRadius: 4, background: 'linear-gradient(135deg,#ff4259,#ff7d4a)' }} />
      <T x={787.6} y={506.7} s="VISA" z={34} c="rgba(200,40,60,0.18)" b={700} a="c" />
      <Box x0={719} y0={461.7} x1={741.6} y1={479.3} style={{ background: 'repeating-linear-gradient(90deg,#e8c46a 0 4px,#6b5a2a 4px 5px)', border: '1px solid #6b5a2a', borderRadius: 2 }} />
      <T x={857.7} y={467} s="VISA" z={11} c="#fff" b={700} a="r" />
      <T x={719} y={495} s="630 092  200 001 232" z={10.8} c="#fff" />
      <T x={719} y={515} s="12/31" z={8} c="#fff" />
      <T x={719} y={525} s="12/31" z={8} c="#fff" />
      <T x={857} y={515} s="Date" z={8} c="#fff" a="r" />
      <T x={857} y={525} s="12/31" z={8} c="#fff" a="r" />

      {/* cumulative bars */}
      <Card x0={20} y0={640} x1={361.3} y1={792.7} r={0} />
      <T x={30.8} y={651.3} s="累计增长" z={8} c="#222" b={500} />
      <Pill x0={209.4} x1={285.6} y0={672.7} y1={688.3} s="2022年5月" cal tx={215.3} />
      <Pill x0={292} x1={343} y0={672.7} y1={688.3} s="部门一" tx={297.5} />
      <T x={32} y={693.7} s="单位：张" />
      <Plot l={44} t={705} r={291} b={775.3} xr={[-0.325, 5.29]} yr={[0, 100]} xt={monthPos} xl={months} yt={[0, 50, 100]} yl={['0', '50', '100']}
        gridC="#eeeeee" gridW={1} axisC="#bbb" axisW={1} yPad={3} xPad={3} tc="#888"
        ds={[
          { type: 'line', data: zip(monthPos.map((v) => v - 0.136), growLine), borderColor: '#f59a84', borderWidth: 1, pointRadius: 1.6, pointBackgroundColor: '#f0452a', pointBorderWidth: 0, order: 0 },
          { data: zip(monthPos, growStrategy), barThickness: 2.85, maxBarThickness: 2.2, backgroundColor: '#f0553a', order: 1 },
          { data: zip(monthPos, growMarketing), barThickness: 2.85, maxBarThickness: 2.2, backgroundColor: '#ffb81f', order: 1 },
          { data: zip(monthPos, growOps), barThickness: 2.85, maxBarThickness: 2.2, backgroundColor: '#1173c9', order: 1 },
          { data: zip(monthPos, growFinance), barThickness: 2.85, maxBarThickness: 2.2, backgroundColor: '#2dc79b', order: 1 },
          { data: zip(monthPos, growOther), barThickness: 2.85, maxBarThickness: 2.2, backgroundColor: '#3e8bff', order: 1 },
        ]} />
      <Tip x0={159} y0={735.7} x1={189} y1={750} />
      <T x={172} y={742} s="45" c="#333" a="c" b={500} />
      {['战略', '营销', '运营', '财务', '其他'].map((s, i) => (
        <React.Fragment key={i}>
          <Box x0={302} y0={[710.3, 723.7, 737, 750.3, 764][i] - 0.75} x1={319} y1={[710.3, 723.7, 737, 750.3, 764][i] + 0.75} style={{ background: ['#f0452a', '#ffb81f', '#1173c9', '#2dc79b', '#3e8bff'][i] }} />
          <T x={327} y={[710.3, 723.7, 737, 750.3, 764][i]} s={s} />
        </React.Fragment>
      ))}
      <Cap x={182.7} y={811} s="柱状图" />

      {/* trend line */}
      <Card x0={368.7} y0={640} x1={710} y1={792.7} r={0} />
      <T x={381} y={650.3} s="一个月报表增长趋势" z={8} c="#222" b={500} />
      <Box x0={462} y0={678.2} x1={484} y1={679.8} style={{ background: '#5a9cf5' }} />
      <Box x0={470} y0={676} x1={476} y1={682} style={{ background: '#fff', border: '1px solid #5a9cf5', borderRadius: '50%' }} />
      <T x={489.5} y={679} s="协议" />
      <Pill x0={563} x1={639} y0={671.3} y1={687} s="2022年5月" cal tx={569} />
      <Pill x0={645.5} x1={693.3} y0={671.3} y1={687} s="协议" tx={651} />
      <T x={417} y={693.7} s="单位：张" />
      <Box x0={411.5} y0={690} x1={412.5} y1={777} style={{ background: '#ddd' }} />
      <Plot l={412} t={700.3} r={695} b={777} xr={[-0.024, 5.71]} yr={[0, 250]} xt={ft} xl={trendLabels} yt={[0, 50, 100, 150, 200, 250]} yl={['0', '50', '100', '150', '200', '250']}
        vg vgC="#eeeeee" gridC="#eeeeee" gridW={1} axisC="#ccc" axisW={1.5} yPad={5} xPad={3} tc="#777"
        ds={[{ type: 'line', data: zip(trendX, trendY), tension: 0.4, borderColor: '#4c8ff0', borderWidth: 1.3, fill: true, backgroundColor: vFill(['rgba(120,175,245,0.32)', 'rgba(190,220,255,0.04)']),
          pointRadius: (c: any) => (c.dataIndex === 9 ? 2.4 : 0), pointBackgroundColor: '#fff', pointBorderColor: '#4c8ff0', pointBorderWidth: 1 }]} />
      <Tip x0={496.8} y0={724} x1={525.7} y1={736.7} />
      <T x={509.5} y={730.5} s="110" c="#333" a="c" b={500} />
      <Cap x={557.9} y={811} s="折线图" />

      {/* date input */}
      <Box x0={324.6} y0={841.3} x1={401.3} y1={856.7} style={{ border: '1px solid #eee' }} />
      <T x={330.6} y={849} s="2022年5月" z={7.5} c="#444" />
      <Cal x={393.5} y={849} c="#222" />

      {/* stacked-look area */}
      <Head x={787} y={645.2} s="此处是大标题" />
      <Plot l={804} t={654.4} r={1166} b={813.8} xr={[-0.187, 6.13]} yr={[0, 240]} xt={midTicks} xl={cats} yt={[0, 50, 100, 150, 200]} yl={['0', '50', '100', '150', '200']} yPad={6}
        ds={[
          { type: 'line', data: zip(areaX, areaOrange), tension: 0.4, borderColor: '#fcb755', borderWidth: 1, fill: true, backgroundColor: '#fde9c7', pointRadius: (c: any) => (c.dataIndex === 6 ? 2.3 : 0), pointBackgroundColor: '#fff', pointBorderColor: '#fcb755', pointBorderWidth: 1 },
          { type: 'line', data: zip(areaX, areaTeal), tension: 0.4, borderColor: '#1fc8e0', borderWidth: 1, fill: true, backgroundColor: '#b5f6fb', pointRadius: (c: any) => (c.dataIndex === 6 ? 2.3 : 0), pointBackgroundColor: '#fff', pointBorderColor: '#1fc8e0', pointBorderWidth: 1 },
          { type: 'line', data: zip(areaX, areaRed), tension: 0.4, borderColor: '#ff3b58', borderWidth: 1, fill: true, backgroundColor: '#fdd9de', pointRadius: (c: any) => (c.dataIndex === 6 ? 2.3 : 0), pointBackgroundColor: '#fff', pointBorderColor: '#ff3b58', pointBorderWidth: 1 },
        ]} />

      {/* big title area with dashed */}
      <Head x={23.9} y={906.3} s="此处是大标题" />
      <Box x0={392.5} y0={906.8} x1={394} y1={908.3} style={{ background: '#222', borderRadius: '50%' }} />
      <Plot l={41.3} t={915} r={404} b={1075} xr={[-0.079, 6.04]} yr={[0, 240.6]} xt={midTicks} xl={cats} yt={[0, 50, 100, 150, 200]} yl={['0', '50', '100', '150', '200']} yPad={5.5}
        ds={[
          { type: 'line', data: [{ x: 4.95, y: 0 }, { x: 4.95, y: 184.5 }], borderColor: '#aaa', borderWidth: 1, borderDash: [3, 2], pointRadius: 0 },
          { type: 'line', data: zip(waveDashX, waveDashY), tension: 0.4, borderColor: '#777', borderWidth: 1.2, borderDash: [4, 2.5], fill: true, backgroundColor: 'rgba(110,110,110,0.06)', pointRadius: 0 },
          { type: 'line', data: zip(waveSolidX, waveSolidY), tension: 0.4, borderWidth: 1.4, borderColor: hLine(['#ff7a10', '#ff5a20', '#ff2a40', '#ff1a3c']), fill: true, backgroundColor: hLine(['rgba(255,190,150,0.2)', 'rgba(255,80,100,0.17)']),
            pointRadius: (c: any) => (c.dataIndex === 19 ? 3.6 : 0), pointBackgroundColor: '#ff1a3c', pointBorderColor: 'rgba(255,255,255,0.95)', pointBorderWidth: 2.5 },
        ]} />
      <Box x0={302} y0={917.3} x1={378} y1={945.7} style={{ background: '#fff', border: '1px solid #eee', borderRadius: 2 }} />
      <T x={310.4} y={925.7} s="170条" z={9} c="#ff1a3c" b={500} />
      <T x={310.4} y={937.7} s="2022年6月7日" z={8} c="#555" />

      {/* donut */}
      <Ring cx={544} cy={980} r={68.3} w={33.3} data={donutVals} colors={['#22cbe3', '#ff3b58', '#fcbc5c']} />
      <Box x0={506} y0={942} x1={582} y1={1018} style={{ borderRadius: '50%', border: '3px solid rgba(255,255,255,0.3)' }} />
      <T x={544} y={974.7} s="23482" z={14} c="#222" a="c" />
      <T x={544} y={988} s="总计" z={7.5} c="#888" a="c" />
      {[452.7, 522.5, 596].map((x, i) => (
        <React.Fragment key={i}>
          <Box x0={x - 3.7} y0={1069} x1={x + 3.7} y1={1076.4} style={{ borderRadius: '50%', background: ['#ff3b58', '#fcbc5c', '#22cbe3'][i] }} />
          <T x={x + 10} y={1072.7} s={legendDonut[i]} c="#777" />
        </React.Fragment>
      ))}

      {/* concentric */}
      <Ring cx={819} cy={994.3} r={78} w={5.3} data={[62, 38]} colors={['#ff3b58', '#e8ebef']} />
      <Ring cx={819} cy={994.3} r={63.7} w={5.3} data={[51.8, 48.2]} colors={['#22cbe3', '#e8ebef']} rot={327} />
      <Ring cx={819} cy={994.3} r={48} w={5.3} data={[41, 59]} colors={['#fcbc5c', '#e8ebef']} rot={45} />
      <T x={819} y={992} s="100%" z={14} c="#222" a="c" />
      <T x={819} y={1006} s="满意度" z={7.5} c="#777" a="c" />
      {[1092.4, 1108.6, 1124.5].map((y, i) => (
        <React.Fragment key={i}>
          <Box x0={723} y0={y - 5} x1={733} y1={y + 5} style={{ borderRadius: '50%', border: `3px solid ${['#ff3b58', '#22cbe3', '#fcbc5c'][i]}` }} />
          <T x={745} y={y} s="标题" c="#777" />
          <T x={879.6} y={y} s="50%" c="#777" />
        </React.Fragment>
      ))}
      <HBars l={777} r={857.5} first={1092.4} sp={16} vals={[50, 50, 50]} max={100} thick={4} track="#e8ebef"
        color={(c: any) => ['#ff3b58', '#22cbe3', '#fcbc5c'][c.dataIndex ?? 0]} />

      {/* thick blue gauge */}
      <Gauge cx={1105.3} cy={1011.9} r={86} w={29.5} n={28} on="#2a7bff" rot={-2.2} />
      <SectionGauge cx={1105.3} cy={1011.9} color="#1c6ff0" pct="100%" y1={1006} y2={1027} />

      {/* mix bar+line */}
      <Head x={23.9} y={1114.3} s="此处是大标题" />
      <Plot l={41.3} t={1149.7} r={404} b={1282.7} xr={[-0.184, 6.15]} yr={[0, 200]} xt={midTicks} xl={cats} yt={[0, 50, 100, 150, 200]} yl={['0', '50', '100', '150', '200']} yPad={5.5}
        ds={[
          { type: 'line', data: zip(mixLineX, mixLineY), tension: 0.4, borderColor: '#ff1a3c', borderWidth: 1.4, order: 0,
            pointRadius: (c: any) => (c.dataIndex === 15 ? 3.4 : 0), pointBackgroundColor: '#ff1a3c', pointBorderColor: 'rgba(255,255,255,0.95)', pointBorderWidth: 2.5 },
          { type: 'line', data: [{ x: 5.03, y: 0 }, { x: 5.03, y: 105 }], borderColor: '#ffb0b8', borderWidth: 1, borderDash: [2, 2], pointRadius: 0, order: 0 },
          { data: zip(mixGroupX, mixRed), barThickness: 10.4, maxBarThickness: 7.8, backgroundColor: '#ff3b58', order: 1 },
          { data: zip(mixGroupX, mixTeal), barThickness: 10.4, maxBarThickness: 7.8, backgroundColor: '#22cbe3', order: 1 },
        ]} />

      {/* thin gauges */}
      <Gauge cx={540} cy={1235.8} r={71.6} w={7.5} n={72} on="#1c6ff0" ratio={1.35} />
      <SectionGauge cx={540} cy={1235.8} color="#1c6ff0" pct="100%" y1={1227.7} y2={1248} />
      <Gauge cx={819.5} cy={1235} r={70.5} w={7.5} n={72} off={18} on="#22c4dc" offC="#dedede" ratio={1.35} rot={2} />
      <SectionGauge cx={819.5} cy={1235} color="#22c4dc" pct="75%" y1={1228} y2={1248} />

      {/* stacked with line */}
      <Head x={24.2} y={1354.3} s="堆叠柱状图" />
      <Plot l={40.8} t={1390} r={403} b={1522.7} xr={[-0.224, 6.14]} yr={[0, 200]} xt={midTicks} xl={cats} yt={[0, 50, 100, 150, 200]} yl={['0', '50', '100', '150', '200']} yPad={4.4} stacked
        ds={[
          { type: 'line', stack: 'line', data: zip(stackLineX, stackLineY), tension: 0.4, borderColor: '#f0185a', borderWidth: 1.4, order: 0,
            pointRadius: (c: any) => (c.dataIndex === 14 ? 3 : 0), pointBackgroundColor: '#f0185a', pointBorderColor: 'rgba(255,255,255,0.95)', pointBorderWidth: 2.5 },
          { stack: 'a', data: zip(stackGroupX, stackPink), barThickness: 8, backgroundColor: '#ff2f78', order: 1 },
          { stack: 'a', data: zip(stackGroupX, stackBlue), barThickness: 8, backgroundColor: '#2278ff', order: 1 },
        ]} />

      <Head x={24.2} y={1566.3} s="堆叠柱状图" />
      <Plot l={40.8} t={1602} r={403} b={1734.7} xr={[-0.224, 6.14]} yr={[0, 200]} xt={midTicks} xl={cats} yt={[0, 50, 100, 150, 200]} yl={['0', '50', '100', '150', '200']} yPad={4.4} stacked
        ds={[
          { stack: 'a', data: zip(stackGroupX, stack4Pink), barThickness: 8, backgroundColor: '#ff2f78' },
          { stack: 'a', data: zip(stackGroupX, stack4Yellow), barThickness: 8, backgroundColor: '#ffdc1f' },
          { stack: 'a', data: zip(stackGroupX, stack4Mint), barThickness: 8, backgroundColor: '#22ffc0' },
          { stack: 'a', data: zip(stackGroupX, stack4Blue), barThickness: 8, backgroundColor: '#2278ff' },
        ]} />

      {/* funnel 1 */}
      <C x={450} y={1345} w={172} h={164} cfg={{
        type: 'bar',
        data: { datasets: [{ data: funnel1Top.map((w, i) => ({ x: [-w / 2, w / 2], y: i })), backgroundColor: 'transparent', barThickness: 28 }] },
        plugins: [funnel(funnel1Top, funnel1Bottom, [0, 1, 2, 3, 4], [28.4, 28.4, 28.4, 28.4, 28.4], (_: any, i: number) => fn1C[i])],
        options: { indexAxis: 'y', layout: { padding: 0 }, plugins: noPlug, scales: { x: { type: 'linear', display: false, min: -86, max: 86, offset: false }, y: { type: 'linear', display: false, min: -0.569, max: 4.556, reverse: true, offset: false } } },
      }} />
      {[1363.3, 1395.7, 1427.3, 1459.3, 1491.3].map((y, i) => (
        <React.Fragment key={i}>
          <T x={536} y={y} s={funnel1Inner[i]} c="#fff" a="c" />
          <Lead x0={[616, 603, 595, 593, 593][i]} x1={[676, 664.5, 655.6, 654, 654][i]} y={y} s={funnel1Outer[i]} tx={[680, 668, 659, 659, 659.5][i]} />
        </React.Fragment>
      ))}
      {[456.6, 512.8, 568.9, 625, 681].map((x, i) => (
        <React.Fragment key={i}>
          <Box x0={x - 5} y0={1525.5} x1={x + 5} y1={1536.5} style={{ background: legC[i] }} />
          <T x={x + 11} y={1531} s={`项目${i + 1}`} />
        </React.Fragment>
      ))}

      {/* funnel 2 */}
      <C x={739} y={1345} w={221} h={165} cfg={{
        type: 'bar',
        data: { datasets: [{ data: funnel2Top.map((w, i) => ({ x: [-w / 2, w / 2], y: [0, 1, 2, 3, 4, 5.2][i] })), backgroundColor: 'transparent', barThickness: 20 }] },
        plugins: [funnel(funnel2Top, funnel2Bottom, [0, 1, 2, 3, 4, 5.2], [21.7, 21.4, 21.7, 21.7, 22.4, 32.4], (ctx: any) => lin(ctx, 0, 4, 0, 161, ['#ff3b58', '#ff8fa0', '#ffe6ea']))],
        options: { indexAxis: 'y', layout: { padding: 0 }, plugins: noPlug, scales: { x: { type: 'linear', display: false, min: -110.5, max: 110.5, offset: false }, y: { type: 'linear', display: false, min: -0.594, max: 6, reverse: true, offset: false } } },
      }} />
      {[1363.3, 1385.3, 1412.3, 1437, 1462.7, 1491.3].map((y, i) => (
        <Lead key={i} x0={[952, 935.6, 916.5, 900, 883, 865.5][i]} x1={[1012, 996, 977, 960, 942.6, 925][i]} y={y} s={funnel2Outer[i]} tx={[1017, 1000, 982, 961, 947, 929][i]} />
      ))}

      {/* liquid */}
      <Liquid cx={535.7} cy={1666.3} color="#1c6ff0" fill="#e2eefd" ys={wave50} label="50%" ty={1667.3} />
      <Liquid cx={683.5} cy={1666.3} color="#ff1a3c" fill="#fde6e9" ys={wave70} label="70%" ty={1667.3} />
      <Liquid cx={535.7} cy={1821.3} color="#ffa62c" fill="#fef7ec" ys={wave20} label="20%" ty={1822} />
      <Liquid cx={683.5} cy={1821.3} color="#0fa97b" fill="#dff6f0" ys={wave90} label="90%" ty={1822} />

      {/* power bars */}
      <Head x={23.9} y={1794.3} s="百分比电量柱状图" />
      <Plot l={40.8} t={1830} r={403} b={1962.7} xr={[-0.19, 6.13]} yr={[0, 200]} xt={powerX} xl={powerLabels} yt={[0, 50, 100, 150, 200]} yl={['0', '50', '100', '150', '200']} yPad={4.4}
        plugins={[stripes]}
        ds={[{ data: zip(powerX, powerVals), barThickness: 14, backgroundColor: vBar((i: number) => (i === 4 ? ['#ff5a18', '#ffb040', '#ffe020'] : ['#1a1fd8', '#3a8ae0', '#22d8ff'])) }]} />

      {/* pos/neg bars */}
      <Head x={23.9} y={2022.3} s="百分比电量柱状图" />
      <Plot l={41.2} t={2057.7} r={403} b={2173.7} xr={[-0.175, 6.15]} yr={[-150, 200]} xt={weekX} xl={weekLabels} yt={weekTicks} yl={weekTickLabels} yPad={5.2} axis={false} stacked xPad={9}
        gridC={(c: any) => (c.tick && c.tick.value === 0 ? '#b5b5b5' : '#f3f4f7')} gridW={(c: any) => (c.tick && c.tick.value === 0 ? 1.5 : 1.2)}
        ds={[
          { stack: 'a', data: zip(weekX, weekPos), barThickness: 9.5, backgroundColor: '#4a8dff' },
          { stack: 'a', data: zip(weekX, weekNeg), barThickness: 9.5, backgroundColor: '#ffc067' },
        ]} />

      {/* thick red gauge */}
      <Gauge cx={554.2} cy={2058} r={85.5} w={29} n={28} off={5} on="#ff3b58" rot={12.8} />
      <SectionGauge cx={554.2} cy={2058} color="#ff3b58" pct="75%" y1={2052.7} y2={2073.3} />

      {/* KPI rings */}
      {[743.5, 855.3, 987.7].map((cx, i) => (
        <React.Fragment key={i}>
          <Ring cx={cx} cy={2026.3} r={23.5} w={2} data={[kpiPct[i], 100 - kpiPct[i]]} rot={[74, 65, 50][i]}
            colors={(c: any) => (c.dataIndex === 0
              ? conic([74, 65, 50][i], [[[0, '#0a9a70'], [0.27, '#19c7bb'], [0.54, '#3fe6f2'], [1, '#3fe6f2']], [[0, '#ff3f3a'], [0.28, '#ff5a30'], [0.56, '#ff7a3a'], [1, '#ff7a3a']], [[0, '#a01aff'], [0.3, '#6a20ff'], [0.6, '#2a2aff'], [1, '#2a2aff']]][i] as any)(c)
              : '#eeeeee')} />
          <T x={cx} y={2022} s={`${kpiPct[i]}%`} z={7.5} c="#444" a="c" />
          <T x={cx} y={2031.7} s="完成率" z={6.5} a="c" />
          <T x={cx} y={2062.7} s={kpiNames[i]} z={8} a="c" />
          <div style={{ position: 'absolute', left: cx, top: 2081.3, transform: 'translate(-50%,-50%)', whiteSpace: 'nowrap', lineHeight: 1, color: '#222', fontSize: 13.5 }}>
            {kpiAmount[i]}<span style={{ fontSize: 7, color: '#999' }}>元</span>
          </div>
        </React.Fragment>
      ))}

      {/* thick teal gauge */}
      <Gauge cx={554} cy={2285.8} r={85.8} w={29} n={28} off={5} on="#22c8e0" rot={12.8} />
      <SectionGauge cx={554} cy={2285.8} color="#22c8e0" pct="75%" y1={2281} y2={2301.7} />

      {/* gantt */}
      <Head x={30.7} y={2251.3} s="甘特图" />
      <Plot l={63} t={2276.7} r={425} b={2371.7} indexAxis="y" xr={[4.45, 35.8]} yr={[-0.6, 5.07]} yRev xt={ganttTicks} xl={ganttTickLabels} yt={[0, 1, 2, 3, 4]} yl={ganttTasks}
        vg vgC="#e9e9e9" vgDash={[1, 2]} axisC="#999" axisW={1} yPad={5.8} xPad={7} z={7} gridW={1.2}
        ds={[{ data: ganttStart.map((s, i) => ({ x: [s, ganttEnd[i]], y: i })), barThickness: 3.5, backgroundColor: '#2a78ff' }]} />

      {/* scatter */}
      <Head x={30.7} y={2431.7} s="散点图" />
      <Plot l={63} t={2456.7} r={425} b={2551.3} xr={[0.892, 7.08]} yr={[460, 3310]} xt={scatterTicks} xl={months} yt={[1000, 1500, 2000, 2500, 3000]} yl={['1000', '1500', '2000', '2500', '3000']}
        vg vgC="#e9e9e9" vgDash={[1, 2]} axisC="#999" axisW={1} yPad={5.8} xPad={7} z={7.5} gridW={1.2}
        ds={[{ type: 'scatter', data: zip(scatterX, scatterY), pointRadius: 2, backgroundColor: '#2a78ff', borderWidth: 0 }]} />

      {/* word cloud */}
      {cloudWords.map((w, i) => (
        <T key={i} x={wordLayout[i][0]} y={wordLayout[i][1]} s={w} z={wordLayout[i][2]} c={wordLayout[i][3]} b={i === 8 || i === 11 || i === 15 ? 400 : 500} a="c" />
      ))}
    </div>
  );
}
